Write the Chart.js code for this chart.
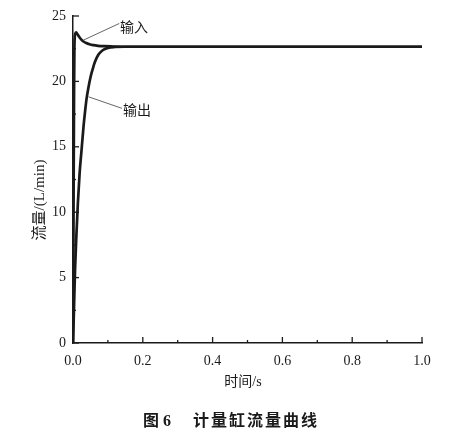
<!DOCTYPE html>
<html><head><meta charset="utf-8">
<script src="https://cdn.jsdelivr.net/npm/chart.js@4.4.1/dist/chart.umd.min.js"></script>
<style>html,body{margin:0;padding:0;background:#fff;}#wrap{width:458px;height:437px;position:relative;}</style>
</head><body><div id="wrap"><canvas id="c" width="458" height="437"></canvas></div>
<script>
// ---- data ----
const timeIn  = [0, 0.001, 0.002, 0.003, 0.004, 0.006, 0.009, 0.013, 0.018, 0.024, 0.030, 0.038, 0.047, 0.058, 0.072, 0.090, 0.115, 0.150, 0.250, 0.500, 1.000];
const flowIn  = [0, 6.0, 13.0, 19.0, 22.5, 23.6, 23.75, 23.6, 23.4, 23.2, 23.05, 22.93, 22.84, 22.77, 22.72, 22.69, 22.67, 22.65, 22.65, 22.65, 22.65];
const timeOut = [0, 0.002, 0.004, 0.006, 0.0095, 0.014, 0.019, 0.024, 0.030, 0.035, 0.039, 0.044, 0.050, 0.056, 0.063, 0.073, 0.085, 0.100, 0.120, 0.150, 0.250, 0.500, 1.000];
const flowOut = [0, 1.8, 3.8, 5.7, 8.1, 10.7, 13.0, 14.6, 16.5, 17.8, 18.7, 19.5, 20.3, 20.9, 21.5, 22.05, 22.38, 22.56, 22.63, 22.65, 22.65, 22.65, 22.65];
const xTickLabels = ['0.0', '0.2', '0.4', '0.6', '0.8', '1.0'];
const yTickLabels = ['0', '5', '10', '15', '20', '25'];
const seriesNames = ['输入', '输出'];
const xTitle = '时间/s';
const yTitle = '流量/(L/min)';
const captionNo = '图 6';
const captionText = '计量缸流量曲线';

const INK = '#1a1a1a';
const serifMix = "'Liberation Serif','Noto Sans CJK SC'";

const decor = {
  id: 'decor',
  afterDraw(chart) {
    const {ctx, scales: {x, y}} = chart;
    const x0 = x.getPixelForValue(0), y0 = y.getPixelForValue(0);
    ctx.save();
    ctx.strokeStyle = INK; ctx.lineWidth = 1.3;
    // inward ticks x
    for (let v = 0; v <= 10; v++) {
      const px = x.getPixelForValue(v / 10);
      const len = v % 2 === 0 ? 6 : 3;
      ctx.beginPath(); ctx.moveTo(px, y0); ctx.lineTo(px, y0 - len); ctx.stroke();
    }
    // inward ticks y
    for (let v = 0; v <= 10; v++) {
      const py = y.getPixelForValue(v * 2.5);
      const len = v % 2 === 0 ? 6 : 3;
      ctx.beginPath(); ctx.moveTo(x0, py); ctx.lineTo(x0 + len, py); ctx.stroke();
    }
    // leader lines + labels
    ctx.strokeStyle = '#555'; ctx.lineWidth = 0.9;
    const lead = [
      {from: [0.0295, 23.15], to: [0.1327, 24.43], text: [0.135, 24.05], name: seriesNames[0]},
      {from: [0.0447, 18.82], to: [0.1404, 17.94], text: [0.143, 17.68], name: seriesNames[1]}
    ];
    ctx.fillStyle = INK;
    ctx.font = "14px " + serifMix;
    ctx.textBaseline = 'middle'; ctx.textAlign = 'left';
    lead.forEach(l => {
      ctx.beginPath();
      ctx.moveTo(x.getPixelForValue(l.from[0]), y.getPixelForValue(l.from[1]));
      ctx.lineTo(x.getPixelForValue(l.to[0]), y.getPixelForValue(l.to[1]));
      ctx.stroke();
      ctx.fillText(l.name, x.getPixelForValue(l.text[0]), y.getPixelForValue(l.text[1]));
    });
    // axis titles
    ctx.textAlign = 'center';
    ctx.font = "14px " + serifMix;
    ctx.fillText(xTitle, 243, 382);
    ctx.save();
    ctx.translate(40, 200); ctx.rotate(-Math.PI / 2);
    ctx.font = "15px " + serifMix;
    ctx.fillText(yTitle, 0, 0);
    ctx.restore();
    // caption
    ctx.textAlign = 'left';
    ctx.font = "bold 16px " + serifMix;
    ctx.fillText(captionNo, 143, 422);
    try { ctx.letterSpacing = '2px'; } catch (e) {}
    ctx.fillText(captionText, 193, 422);
    ctx.restore();
  }
};

new Chart(document.getElementById('c').getContext('2d'), {
  type: 'line',
  data: {
    datasets: [
      {label: seriesNames[0], data: timeIn.map((t, i) => ({x: t, y: flowIn[i]})), borderColor: INK, borderWidth: 2.7, pointRadius: 0, cubicInterpolationMode: 'monotone', fill: false},
      {label: seriesNames[1], data: timeOut.map((t, i) => ({x: t, y: flowOut[i]})), borderColor: INK, borderWidth: 2.7, pointRadius: 0, cubicInterpolationMode: 'monotone', fill: false}
    ]
  },
  options: {
    responsive: false, animation: false, devicePixelRatio: 1,
    layout: {padding: {top: 16, right: 36, left: 0, bottom: 0}},
    plugins: {legend: {display: false}, tooltip: {enabled: false}},
    scales: {
      x: {
        type: 'linear', min: 0, max: 1,
        grid: {display: false, drawTicks: false},
        border: {display: true, color: INK, width: 1.5},
        ticks: {stepSize: 0.2, padding: 10, color: INK, autoSkip: false, maxRotation: 0,
          font: {family: 'Liberation Serif', size: 14},
          callback: (v, i) => xTickLabels[i]},
        afterFit(s) { s.height = 94; }
      },
      y: {
        type: 'linear', min: 0, max: 25,
        grid: {display: false, drawTicks: false},
        border: {display: true, color: INK, width: 1.5},
        ticks: {stepSize: 5, padding: 7, color: INK, autoSkip: false,
          font: {family: 'Liberation Serif', size: 14},
          callback: (v, i) => yTickLabels[i]},
        afterFit(s) { s.width = 73; }
      }
    }
  },
  plugins: [decor]
});
</script></body></html>
